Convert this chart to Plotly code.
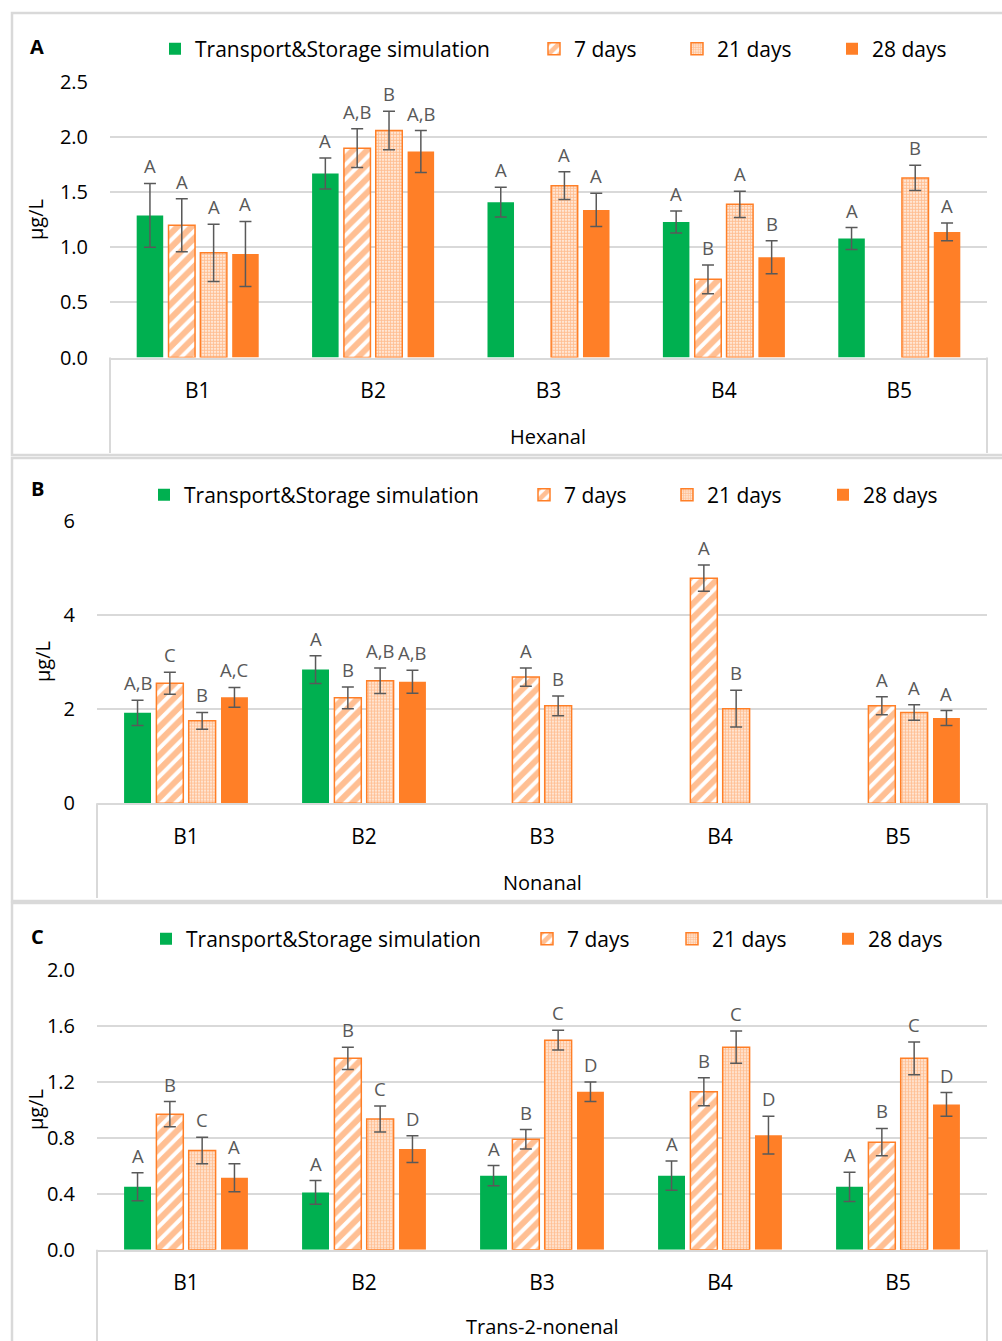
import plotly.graph_objects as go

W, H = 1002, 1341

categories = ["B1", "B2", "B3", "B4", "B5"]
series_names = ["Transport&Storage simulation", "7 days", "21 days", "28 days"]

# ---- Hexanal (µg/L) ----
hex_tss = [1.29, 1.67, 1.41, 1.23, 1.08]
hex_tss_err = [0.29, 0.14, 0.135, 0.10, 0.10]
hex_tss_lbl = ["A", "A", "A", "A", "A"]
hex_d7 = [1.20, 1.90, None, 0.71, None]
hex_d7_err = [0.24, 0.175, None, 0.13, None]
hex_d7_lbl = ["A", "A,B", "", "B", ""]
hex_d21 = [0.95, 2.06, 1.56, 1.39, 1.63]
hex_d21_err = [0.26, 0.175, 0.125, 0.12, 0.115]
hex_d21_lbl = ["A", "B", "A", "A", "B"]
hex_d28 = [0.94, 1.87, 1.34, 0.91, 1.14]
hex_d28_err = [0.295, 0.19, 0.15, 0.15, 0.08]
hex_d28_lbl = ["A", "A,B", "A", "B", "A"]

# ---- Nonanal (µg/L) ----
non_tss = [1.92, 2.84, None, None, None]
non_tss_err = [0.27, 0.295, None, None, None]
non_tss_lbl = ["A,B", "A", "", "", ""]
non_d7 = [2.55, 2.24, 2.68, 4.78, 2.07]
non_d7_err = [0.235, 0.23, 0.195, 0.28, 0.19]
non_d7_lbl = ["C", "B", "A", "A", "A"]
non_d21 = [1.75, 2.60, 2.07, 2.01, 1.93]
non_d21_err = [0.18, 0.27, 0.21, 0.39, 0.165]
non_d21_lbl = ["B", "A,B", "B", "B", "A"]
non_d28 = [2.25, 2.58, None, None, 1.81]
non_d28_err = [0.21, 0.245, None, None, 0.16]
non_d28_lbl = ["A,C", "A,B", "", "", "A"]

# ---- Trans-2-nonenal (µg/L) ----
t2n_tss = [0.45, 0.41, 0.53, 0.53, 0.45]
t2n_tss_err = [0.10, 0.085, 0.072, 0.105, 0.105]
t2n_tss_lbl = ["A", "A", "A", "A", "A"]
t2n_d7 = [0.97, 1.37, 0.79, 1.13, 0.77]
t2n_d7_err = [0.09, 0.08, 0.07, 0.10, 0.098]
t2n_d7_lbl = ["B", "B", "B", "B", "B"]
t2n_d21 = [0.71, 0.935, 1.50, 1.45, 1.37]
t2n_d21_err = [0.095, 0.093, 0.07, 0.115, 0.117]
t2n_d21_lbl = ["C", "C", "C", "C", "C"]
t2n_d28 = [0.515, 0.72, 1.13, 0.82, 1.04]
t2n_d28_err = [0.10, 0.095, 0.07, 0.135, 0.085]
t2n_d28_lbl = ["A", "D", "D", "D", "D"]

GREEN = "#00B050"
ORANGE = "#FF7F27"
GRID = "#D9D9D9"
ERR = "#595959"
FONT = "Open Sans"

BARGAP = 0.274
BARGROUPGAP = 0.167


def px_x(v):
    return v / W


def px_y(v):
    return 1 - v / H


def marker_for(i):
    if i == 0:
        return dict(color=GREEN, line=dict(width=0))
    if i == 1:
        return dict(color="white", line=dict(color=ORANGE, width=1.5),
                    pattern=dict(shape="/", fgcolor=ORANGE, bgcolor="white",
                                 size=10, solidity=0.6))
    if i == 2:
        return dict(color="white", line=dict(color=ORANGE, width=1.5),
                    pattern=dict(shape=".", fgcolor=ORANGE, bgcolor="white",
                                 size=3, solidity=0.7))
    return dict(color=ORANGE, line=dict(width=0))


panels = [
    dict(tag="A", title="Hexanal", ymax=2.5, dtick=0.5, fmt=".1f",
         series=[(hex_tss, hex_tss_err, hex_tss_lbl), (hex_d7, hex_d7_err, hex_d7_lbl),
                 (hex_d21, hex_d21_err, hex_d21_lbl), (hex_d28, hex_d28_err, hex_d28_lbl)],
         xdom=(110, 987), ydom=(82, 357.6), box=(13, 455), boxbottom=453,
         legend_y=49, legend_x=[171, 550, 693, 848], tag_y=46,
         ytitle=(35, 220), xtitle=(548, 437)),
    dict(tag="B", title="Nonanal", ymax=6, dtick=2, fmt="d",
         series=[(non_tss, non_tss_err, non_tss_lbl), (non_d7, non_d7_err, non_d7_lbl),
                 (non_d21, non_d21_err, non_d21_lbl), (non_d28, non_d28_err, non_d28_lbl)],
         xdom=(97, 987), ydom=(520.7, 803.3), box=(458, 901), boxbottom=898,
         legend_y=495, legend_x=[160, 540, 683, 839], tag_y=489,
         ytitle=(42, 662), xtitle=(542, 882)),
    dict(tag="C", title="Trans-2-nonenal", ymax=2.0, dtick=0.4, fmt=".1f",
         series=[(t2n_tss, t2n_tss_err, t2n_tss_lbl), (t2n_d7, t2n_d7_err, t2n_d7_lbl),
                 (t2n_d21, t2n_d21_err, t2n_d21_lbl), (t2n_d28, t2n_d28_err, t2n_d28_lbl)],
         xdom=(97, 987), ydom=(970.3, 1249.7), box=(903, 1345), boxbottom=1345,
         legend_y=939, legend_x=[162, 543, 688, 844], tag_y=936,
         ytitle=(35, 1110), xtitle=(542, 1326)),
]

fig = go.Figure()
annotations = []
shapes = []
layout = {}
slot = (1 - BARGAP) / 4

for p_i, p in enumerate(panels):
    sfx = "" if p_i == 0 else str(p_i + 1)
    xref, yref = "x" + sfx, "y" + sfx
    for s_i, (vals, errs, lbls) in enumerate(p["series"]):
        leg_name = "legend" + ("" if (p_i == 0 and s_i == 0) else str(p_i * 4 + s_i + 1))
        fig.add_trace(go.Bar(
            x=categories, y=vals, name=series_names[s_i],
            xaxis=xref, yaxis=yref, legend=leg_name,
            marker=marker_for(s_i),
            error_y=dict(type="data", array=[e if e is not None else 0 for e in errs],
                         color=ERR, thickness=1.5, width=6, visible=True),
        ))
        layout[leg_name] = dict(
            x=px_x(p["legend_x"][s_i] - 16), y=px_y(p["legend_y"]),
            xanchor="left", yanchor="middle", orientation="h",
            bgcolor="rgba(0,0,0,0)", borderwidth=0,
            font=dict(family=FONT, size=21, color="#000000"),
            itemclick=False, itemdoubleclick=False,
        )
        # significance letters above error bars
        for c_i, (v, e, t) in enumerate(zip(vals, errs, lbls)):
            if v is None or not t:
                continue
            annotations.append(dict(
                x=c_i + (s_i - 1.5) * slot, y=v + e, xref=xref, yref=yref,
                text=t, showarrow=False, xanchor="center", yanchor="bottom", yshift=3,
                font=dict(family=FONT, size=18.5, color=ERR),
            ))

    ax_x = "xaxis" + sfx
    ax_y = "yaxis" + sfx
    layout[ax_x] = dict(
        domain=[px_x(p["xdom"][0]), px_x(p["xdom"][1])], anchor=yref,
        type="category", showgrid=False, showline=True, linecolor=GRID, linewidth=2,
        ticks="", ticklabelstandoff=13, automargin=False,
        tickfont=dict(family=FONT, size=21, color="#000000"),
        fixedrange=True,
    )
    layout[ax_y] = dict(
        domain=[px_y(p["ydom"][1]), px_y(p["ydom"][0])], anchor=xref,
        range=[0, p["ymax"]], dtick=p["dtick"], tick0=0, tickformat=p["fmt"],
        showgrid=True, gridcolor=GRID, gridwidth=2, zeroline=False, showline=False,
        ticks="", ticklabelstandoff=21, automargin=False,
        tickfont=dict(family=FONT, size=20, color="#000000"),
        fixedrange=True,
    )

    # outer panel frame
    shapes.append(dict(type="rect", xref="paper", yref="paper",
                       x0=px_x(12), x1=px_x(1006), y0=px_y(p["box"][1]), y1=px_y(p["box"][0]),
                       line=dict(color=GRID, width=2.5), layer="below"))
    # category box sides below the plot area
    for xv in p["xdom"]:
        shapes.append(dict(type="line", xref="paper", yref="paper",
                           x0=px_x(xv), x1=px_x(xv),
                           y0=px_y(p["ydom"][1]), y1=px_y(p["boxbottom"]),
                           line=dict(color=GRID, width=2)))

    annotations.append(dict(x=px_x(37), y=px_y(p["tag_y"]), xref="paper", yref="paper",
                            text="<b>%s</b>" % p["tag"], showarrow=False,
                            xanchor="center", yanchor="middle",
                            font=dict(family=FONT, size=20, color="#000000")))
    annotations.append(dict(x=px_x(p["ytitle"][0]), y=px_y(p["ytitle"][1]),
                            xref="paper", yref="paper", text="μg/L", textangle=-90,
                            showarrow=False, xanchor="center", yanchor="middle",
                            font=dict(family=FONT, size=20, color="#000000")))
    annotations.append(dict(x=px_x(p["xtitle"][0]), y=px_y(p["xtitle"][1]),
                            xref="paper", yref="paper", text=p["title"], showarrow=False,
                            xanchor="center", yanchor="middle",
                            font=dict(family=FONT, size=20, color="#000000")))

fig.update_layout(
    width=W, height=H, margin=dict(l=0, r=0, t=0, b=0, pad=0, autoexpand=False),
    paper_bgcolor="white", plot_bgcolor="white",
    barmode="group", bargap=BARGAP, bargroupgap=BARGROUPGAP,
    showlegend=True, annotations=annotations, shapes=shapes,
    font=dict(family=FONT),
    **layout,
)

fig.write_html("out.html", config=dict(displayModeBar=False))
